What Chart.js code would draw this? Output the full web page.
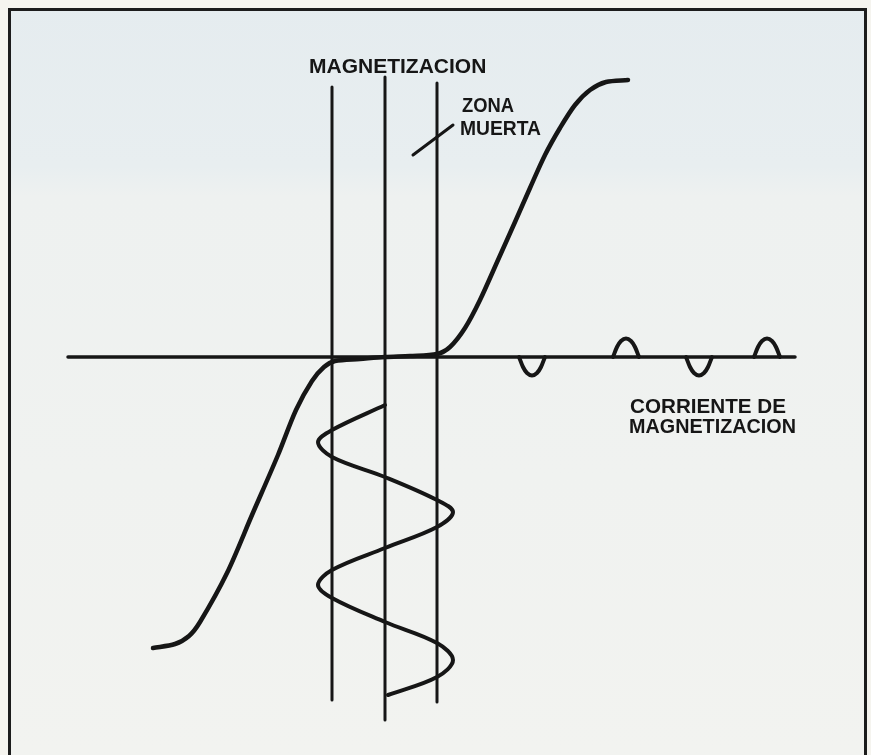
<!DOCTYPE html>
<html>
<head>
<meta charset="utf-8">
<script src="https://cdn.jsdelivr.net/npm/chart.js@4.4.1/dist/chart.umd.min.js"></script>
<style>
  html, body { margin: 0; padding: 0; background: #f5f4ef; }
  #wrap { position: relative; width: 871px; height: 755px; }
</style>
</head>
<body>
<div id="wrap"><canvas id="chart"></canvas></div>
<script>
// magnetisation curve (current H -> magnetisation M), drawing units, origin on the axis
const curveH = [-23.2, -21.0, -19.6, -18.5, -15.8, -13.3, -10.7, -8.9, -7.3, -6.1, -5.0, -2.5, 0, 2.5, 5.2, 6.5, 8.0, 9.5, 11.3, 13.0, 14.5, 16.0, 17.5, 19.0, 20.5, 22.1, 24.3];
const curveM = [-29.1, -28.7, -27.9, -26.5, -21.6, -15.8, -9.8, -5.3, -2.4, -1.0, -0.4, -0.2, 0, 0.1, 0.3, 1.0, 2.9, 5.7, 9.7, 13.5, 16.9, 20.2, 22.9, 25.2, 26.7, 27.5, 27.7];

// input current, time running downwards
const inputH = [0, -5.3, -6.7, -5.3, 0, 5.2, 6.8, 5.2, 0, -5.3, -6.7, -5.3, 0, 5.2, 6.8, 5.2, 0.3];
const inputT = [-4.8, -7.3, -8.5, -10.0, -12.0, -14.3, -15.5, -17.0, -19.1, -21.3, -22.8, -24.1, -26.5, -28.6, -30.3, -32.0, -33.8];

// output pulses sitting on the current axis
const pulsesH = [
  [13.4, 13.8, 14.2, 14.7, 15.2, 15.6, 16.0],
  [22.8, 23.2, 23.6, 24.1, 24.6, 25.0, 25.4],
  [30.1, 30.5, 30.9, 31.4, 31.9, 32.3, 32.7],
  [36.9, 37.3, 37.7, 38.2, 38.7, 39.1, 39.5]
];
const pulsesM = [
  [0, -1.0, -1.6, -1.85, -1.6, -1.0, 0],
  [0, 1.0, 1.6, 1.85, 1.6, 1.0, 0],
  [0, -1.0, -1.6, -1.85, -1.6, -1.0, 0],
  [0, 1.0, 1.6, 1.85, 1.6, 1.0, 0]
];

// current axis and the dead zone guide lines
const axisH = [-31.7, 41.0];
const guideH = [-5.3, 0, 5.2];
const guideTop = [27.0, 28.0, 27.4];
const guideBottom = [-34.3, -36.3, -34.5];

const ink = '#161616';
const zip = (xs, ys) => xs.map((x, i) => ({ x: x, y: ys[i] }));

const datasets = [];
guideH.forEach((h, i) => {
  datasets.push({ data: [{ x: h, y: guideTop[i] }, { x: h, y: guideBottom[i] }], borderWidth: 3, tension: 0 });
});
datasets.push({ data: axisH.map(h => ({ x: h, y: 0 })), borderWidth: 3.5, tension: 0 });
pulsesH.forEach((hs, i) => {
  datasets.push({ data: zip(hs, pulsesM[i]), borderWidth: 4, tension: 0.3 });
});
datasets.push({ data: zip(inputH, inputT), borderWidth: 4, tension: 0.35 });
datasets.push({ data: zip(curveH, curveM), borderWidth: 4.5, tension: 0.3 });
datasets.forEach(d => {
  d.showLine = true;
  d.borderColor = ink;
  d.pointRadius = 0;
  d.borderCapStyle = 'round';
  d.borderJoinStyle = 'round';
});

const paper = {
  id: 'paper',
  beforeDraw(chart) {
    const { ctx, width, height } = chart;
    ctx.save();
    ctx.fillStyle = '#f5f4ef';
    ctx.fillRect(0, 0, width, height);
    const g = ctx.createLinearGradient(0, 0, 0, height);
    g.addColorStop(0, '#e5ecef');
    g.addColorStop(0.22, '#e8eef0');
    g.addColorStop(0.26, '#eef1f0');
    g.addColorStop(1, '#f2f3f0');
    ctx.fillStyle = g;
    ctx.fillRect(9, 9, 856, height);
    ctx.restore();
  },
  afterDraw(chart) {
    const { ctx } = chart;
    const x = chart.scales.x, y = chart.scales.y;
    const px = v => x.getPixelForValue(v), py = v => y.getPixelForValue(v);
    ctx.save();
    ctx.strokeStyle = '#1c1c1c';
    ctx.lineWidth = 3;
    ctx.strokeRect(9.5, 9.5, 856, 800);

    // leader for the dead zone note
    ctx.strokeStyle = ink;
    ctx.lineCap = 'round';
    ctx.beginPath();
    ctx.moveTo(px(2.8), py(20.2));
    ctx.lineTo(px(6.8), py(23.2));
    ctx.stroke();

    ctx.fillStyle = ink;
    ctx.font = "bold 21px 'Liberation Sans', Arial, sans-serif";
    ctx.textBaseline = 'alphabetic';
    ctx.fillText('MAGNETIZACION', px(-7.6), py(28.4), 180);
    ctx.fillText('ZONA', px(7.7), py(24.5), 52);
    ctx.fillText('MUERTA', px(7.5), py(22.2), 81);
    ctx.fillText('CORRIENTE DE', px(24.5), py(-5.6), 156);
    ctx.fillText('MAGNETIZACION', px(24.4), py(-7.6), 167);
    ctx.restore();
  }
};

new Chart(document.getElementById('chart'), {
  type: 'scatter',
  data: { datasets },
  options: {
    responsive: true,
    maintainAspectRatio: false,
    animation: false,
    layout: { padding: 0 },
    plugins: { legend: { display: false }, tooltip: { enabled: false } },
    scales: {
      x: { type: 'linear', min: -38.5, max: 48.6, display: false },
      y: { type: 'linear', min: -39.8, max: 35.7, display: false }
    }
  },
  plugins: [paper]
});
</script>
</body>
</html>
